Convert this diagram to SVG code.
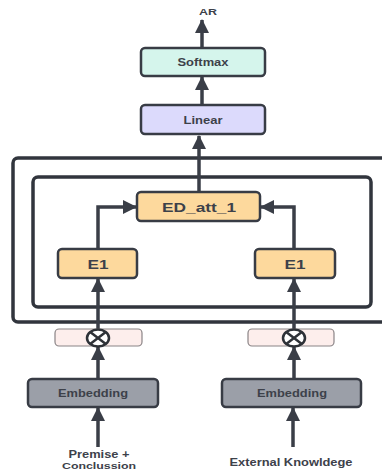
<svg xmlns="http://www.w3.org/2000/svg" width="382" height="470" viewBox="0 0 382 470">
<style>
.box{stroke:#383c45;stroke-width:2.5}
.t{font-family:"Liberation Sans",Arial,sans-serif;font-weight:bold;fill:#3d414a;text-anchor:middle}
.frame{fill:none;stroke:#31353d;stroke-width:3.5}
.c{fill:none;stroke:#3a3e47;stroke-width:3.5}
</style>
<defs>
<marker id="ah" markerUnits="userSpaceOnUse" markerWidth="14" markerHeight="14" viewBox="0 0 14 14" refX="13" refY="7" orient="auto">
<path d="M0,0 L14,7 L0,14 Z" fill="#3a3e47"/>
</marker>
</defs>
<rect width="382" height="470" fill="#ffffff"/>
<g id="outer"><rect class="frame" x="13" y="158" width="420" height="164" rx="5"/></g>
<g id="inner"><rect class="frame" x="33" y="177" width="338" height="130" rx="5"/></g>
<g id="connectors">
<path class="c" d="M202,48 V20" marker-end="url(#ah)"/>
<path class="c" d="M202,105 V77" marker-end="url(#ah)"/>
<path class="c" d="M199,192 V136" marker-end="url(#ah)"/>
<path class="c" d="M98,249 V207 H136" marker-end="url(#ah)"/>
<path class="c" d="M294,249 V207 H261" marker-end="url(#ah)"/>
<path class="c" d="M98,329 V279" marker-end="url(#ah)"/>
<path class="c" d="M294,329 V279" marker-end="url(#ah)"/>
<path class="c" d="M98,379 V347" marker-end="url(#ah)"/>
<path class="c" d="M294,379 V347" marker-end="url(#ah)"/>
<path class="c" d="M98,447 V408" marker-end="url(#ah)"/>
<path class="c" d="M293,447 V408" marker-end="url(#ah)"/>
</g>
<g id="ar"><text class="t" x="208" y="15" font-size="9" textLength="18" lengthAdjust="spacingAndGlyphs">AR</text></g>
<g id="softmax"><rect class="box" x="141" y="48" width="124" height="28" rx="4" fill="#d5f5ec"/>
<text class="t" x="203" y="66" font-size="10" textLength="51" lengthAdjust="spacingAndGlyphs">Softmax</text></g>
<g id="linear"><rect class="box" x="141" y="105" width="124" height="29" rx="4" fill="#dcdafc"/>
<text class="t" x="203" y="123.5" font-size="10.5" textLength="39" lengthAdjust="spacingAndGlyphs">Linear</text></g>
<g id="ed_att_1"><rect class="box" x="137" y="192" width="123" height="29" rx="4" fill="#fdd99d"/>
<text class="t" x="199" y="211.5" font-size="13" textLength="74" lengthAdjust="spacingAndGlyphs">ED_att_1</text></g>
<g id="e1_left"><rect class="box" x="58" y="249" width="79" height="29" rx="4" fill="#fdd99d"/>
<text class="t" x="98" y="268.5" font-size="13" textLength="21" lengthAdjust="spacingAndGlyphs">E1</text></g>
<g id="e1_right"><rect class="box" x="255" y="249" width="80" height="29" rx="4" fill="#fdd99d"/>
<text class="t" x="295" y="268.5" font-size="13" textLength="21" lengthAdjust="spacingAndGlyphs">E1</text></g>
<g id="mult_left"><rect x="55" y="329" width="87" height="17" rx="4" fill="#fdeeec" stroke="#8a8486" stroke-width="1.2"/>
<ellipse cx="98" cy="338" rx="11" ry="8.5" fill="#ffffff" stroke="#2e3238" stroke-width="2.5"/>
<path d="M90.2,332 L105.8,344 M105.8,332 L90.2,344" stroke="#2e3238" stroke-width="2.5"/></g>
<g id="mult_right"><rect x="248" y="329" width="86" height="17" rx="4" fill="#fdeeec" stroke="#8a8486" stroke-width="1.2"/>
<ellipse cx="294" cy="338" rx="11" ry="8.5" fill="#ffffff" stroke="#2e3238" stroke-width="2.5"/>
<path d="M286.2,332 L301.8,344 M301.8,332 L286.2,344" stroke="#2e3238" stroke-width="2.5"/></g>
<g id="emb_left"><rect class="box" x="28" y="379" width="130" height="28" rx="4" fill="#9b9fa8"/>
<text class="t" x="93" y="397" font-size="10" textLength="70" lengthAdjust="spacingAndGlyphs">Embedding</text></g>
<g id="emb_right"><rect class="box" x="222" y="379" width="139" height="28" rx="4" fill="#9b9fa8"/>
<text class="t" x="292" y="397" font-size="10" textLength="70" lengthAdjust="spacingAndGlyphs">Embedding</text></g>
<g id="label_left"><text class="t" x="99" y="458" font-size="10" textLength="61" lengthAdjust="spacingAndGlyphs">Premise +</text>
<text class="t" x="99" y="468.5" font-size="9.5" textLength="74" lengthAdjust="spacingAndGlyphs">Conclussion</text></g>
<g id="label_right"><text class="t" x="291" y="466" font-size="10" textLength="123" lengthAdjust="spacingAndGlyphs">External Knowldege</text></g>
</svg>
